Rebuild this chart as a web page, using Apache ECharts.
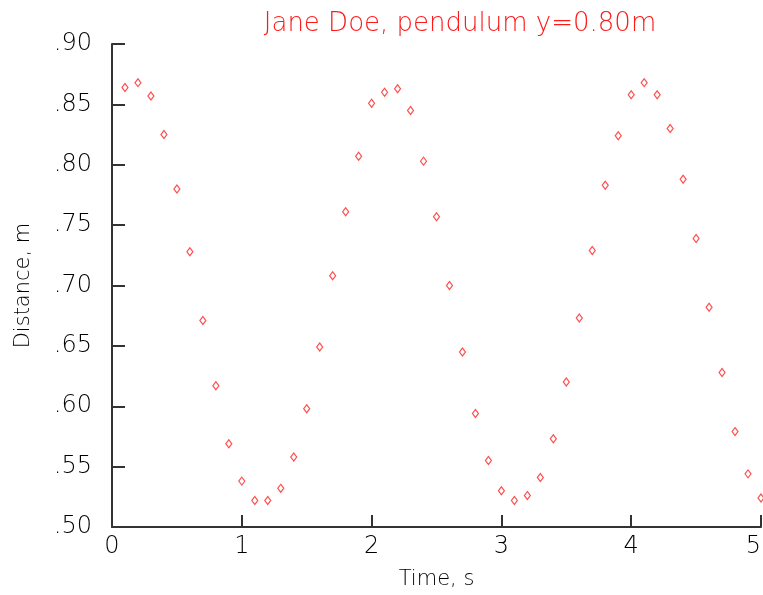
<!DOCTYPE html>
<html><head><meta charset="utf-8">
<script src="https://cdn.jsdelivr.net/npm/echarts@6/dist/echarts.min.js"></script>
<style>html,body{margin:0;padding:0;background:#fff}#c{width:763px;height:595px}</style>
</head><body><div id="c"></div>
<script>
const titleText = 'Jane Doe, pendulum y=0.80m';
const xName = 'Time, s';
const yName = 'Distance, m';
const times = [0.1,0.2,0.3,0.4,0.5,0.6,0.7,0.8,0.9,1.0,1.1,1.2,1.3,1.4,1.5,1.6,1.7,1.8,1.9,2.0,2.1,2.2,2.3,2.4,2.5,2.6,2.7,2.8,2.9,3.0,3.1,3.2,3.3,3.4,3.5,3.6,3.7,3.8,3.9,4.0,4.1,4.2,4.3,4.4,4.5,4.6,4.7,4.8,4.9,5.0];
const distances = [0.864,0.868,0.857,0.825,0.780,0.728,0.671,0.617,0.569,0.538,0.522,0.522,0.532,0.558,0.598,0.649,0.708,0.761,0.807,0.851,0.860,0.863,0.845,0.803,0.757,0.700,0.645,0.594,0.555,0.530,0.522,0.526,0.541,0.573,0.620,0.673,0.729,0.783,0.824,0.858,0.868,0.858,0.830,0.788,0.739,0.682,0.628,0.579,0.544,0.524];
const yTickLabels = {'0.5':'.50','0.55':'.55','0.6':'.60','0.65':'.65','0.7':'.70','0.75':'.75','0.8':'.80','0.85':'.85','0.9':'.90'};

const chart = echarts.init(document.getElementById('c'), null, {renderer:'canvas'});
const font = 'DejaVu Sans';
chart.setOption({
  backgroundColor:'#fff',
  animation:false,
  title:{text:titleText,left:455,textAlign:'center',top:6,
    textStyle:{color:'#ff1a1a',fontFamily:font,fontWeight:'lighter',fontSize:26}},
  grid:{left:112,right:2,top:44,bottom:68,containLabel:false,outerBoundsMode:'none'},
  xAxis:{type:'value',min:0,max:5,interval:1,name:xName,nameLocation:'middle',nameGap:42,
    nameTextStyle:{color:'#000',fontFamily:font,fontWeight:'lighter',fontSize:21},
    axisLine:{show:true,lineStyle:{color:'#333',width:2}},
    axisTick:{show:true,inside:true,length:12,lineStyle:{color:'#333',width:2}},
    axisLabel:{color:'#000',fontFamily:font,fontWeight:'lighter',fontSize:24,margin:8,alignMaxLabel:'right'},
    splitLine:{show:false}},
  yAxis:{type:'value',min:0.5,max:0.9,interval:0.05,name:yName,nameLocation:'middle',nameGap:78,
    nameTextStyle:{color:'#000',fontFamily:font,fontWeight:'lighter',fontSize:21},
    axisLine:{show:true,lineStyle:{color:'#333',width:2}},
    axisTick:{show:true,inside:true,length:13,lineStyle:{color:'#333',width:2}},
    axisLabel:{color:'#000',fontFamily:font,fontWeight:'lighter',fontSize:24,margin:20,
      formatter:v=>yTickLabels[String(+v.toFixed(2))]||''},
    splitLine:{show:false}},
  series:[{type:'scatter',data:times.map((t,i)=>[t,distances[i]]),
    symbol:'diamond',symbolSize:[6,8],
    itemStyle:{color:'#fff',borderColor:'#ff2020',borderWidth:1.2}}]
});
</script></body></html>
